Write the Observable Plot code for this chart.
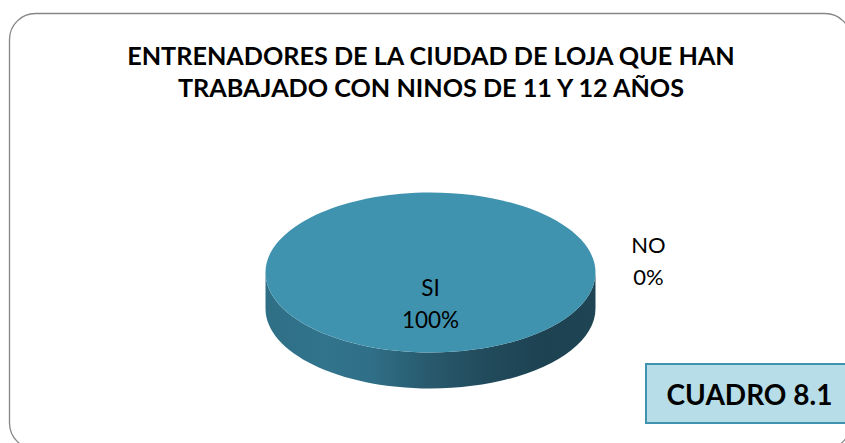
<!DOCTYPE html>
<html><head><meta charset="utf-8">
<script src="https://cdn.jsdelivr.net/npm/d3@7"></script>
<script src="https://cdn.jsdelivr.net/npm/@observablehq/plot@0.6"></script>
<style>html,body{margin:0;padding:0;background:#fff;overflow:hidden}svg{display:block}</style>
</head><body><div id="chart"></div>
<script>
const titleLines = ["ENTRENADORES DE LA CIUDAD DE LOJA QUE HAN", "TRABAJADO CON NINOS DE 11 Y 12 AÑOS"];
const categories = ["SI", "NO"];
const percents = [100, 0];
const boxLabel = ["CUADRO 8.1"];

const font = "Lato, Carlito, Calibri, sans-serif";
const rx = 165, ry = 80, depth = 36, k = 0.5523;
const labelOf = i => `${categories[i]}\n${percents[i]}%`;

const topSym = {draw(c){
  c.moveTo(-rx,0);
  c.bezierCurveTo(-rx,-k*ry,-k*rx,-ry,0,-ry);
  c.bezierCurveTo(k*rx,-ry,rx,-k*ry,rx,0);
  c.bezierCurveTo(rx,k*ry,k*rx,ry,0,ry);
  c.bezierCurveTo(-k*rx,ry,-rx,k*ry,-rx,0);
  c.closePath();
}};
const sideSym = {draw(c){
  c.moveTo(-rx,0);
  c.bezierCurveTo(-rx,k*ry,-k*rx,ry,0,ry);
  c.bezierCurveTo(k*rx,ry,rx,k*ry,rx,0);
  c.lineTo(rx,depth);
  c.bezierCurveTo(rx,depth+k*ry,k*rx,depth+ry,0,depth+ry);
  c.bezierCurveTo(-k*rx,depth+ry,-rx,depth+k*ry,-rx,depth);
  c.closePath();
}};

const slices = categories.map((c,i)=>({c,v:percents[i]})).filter(d=>d.v>0);

const plot = Plot.plot({
  width:845, height:443, margin:0,
  x:{domain:[0,845],range:[0,845],axis:null},
  y:{domain:[0,443],range:[0,443],axis:null},
  marks:[
    () => {
      const s = d3.create("svg:defs");
      const g = s.append("linearGradient").attr("id","side").attr("x1",0).attr("x2",1).attr("y1",0).attr("y2",0);
      [[0,"#2f6f86"],[0.18,"#31748c"],[0.32,"#2f6f87"],[0.5,"#28596c"],[0.68,"#214a5b"],[0.85,"#1d4252"],[1,"#1f4554"]]
        .forEach(([o,col])=>g.append("stop").attr("offset",o).attr("stop-color",col));
      return s.node();
    },
    Plot.rect([0],{x1:()=>9.5,x2:()=>851,y1:()=>13.5,y2:()=>449,rx:26,fill:"#fff",stroke:"#868686",strokeWidth:1.3}),
    Plot.dot(slices,{x:()=>430,y:()=>272,r:10,symbol:sideSym,fill:"url(#side)"}),
    Plot.dot(slices,{x:()=>430,y:()=>272,r:10,symbol:topSym,fill:"#4093ae"}),
    Plot.text(titleLines,{x:()=>430.5,y:(d,i)=>56.5+i*32,text:d=>d,fontFamily:font,fontWeight:700,fontSize:25.2,fill:"#000"}),
    Plot.text([0],{x:()=>430,y:()=>301.5,text:()=>labelOf(0),fontFamily:font,fontSize:22.5,lineHeight:1.43,fill:"#000"}),
    Plot.text([1],{x:()=>648,y:()=>258,text:()=>labelOf(1),fontFamily:font,fontSize:22,lineHeight:1.45,fill:"#000"}),
    Plot.rect([0],{x1:()=>646,x2:()=>850,y1:()=>364,y2:()=>423,fill:"#b7dde8",stroke:"#4093ae",strokeWidth:2}),
    Plot.text(boxLabel,{x:()=>749,y:()=>396,text:d=>d,fontFamily:font,fontWeight:700,fontSize:28,fill:"#000"})
  ]
});
document.getElementById("chart").append(plot);
</script></body></html>
